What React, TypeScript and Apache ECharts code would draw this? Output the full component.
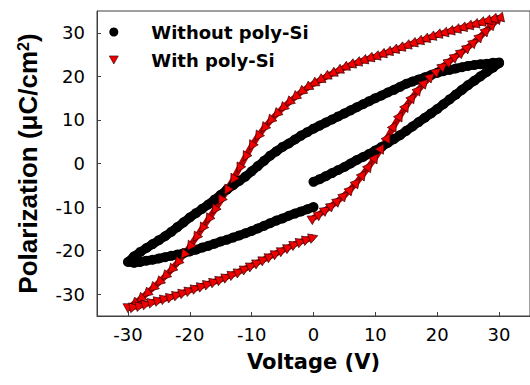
import React, { useEffect, useRef } from "react";
import * as echarts from "echarts";

// Without poly-Si: [voltage (V), polarization (uC/cm2)]
const withoutRise: number[][] = [
  [0, -4.2], [1, -3.6], [2, -2.9], [3, -2.2], [4, -1.5], [5, -0.8], [6, 0], [7, 0.8], [8, 1.5], [9, 2.2],
  [10, 3], [11, 3.8], [12, 4.7], [13, 5.6], [14, 6.5], [15, 7.5], [16, 8.5], [17, 9.5], [18, 10.5], [19, 11.5],
  [20, 12.5], [21, 13.6], [22, 14.7], [23, 15.8], [24, 16.9], [25, 18], [26, 19], [27, 20], [28, 21], [29, 22], [30, 23],
];
const withoutFall: number[][] = [
  [30, 23.2], [29, 23.1], [28, 22.9], [27, 22.8], [26, 22.6], [25, 22.4], [24, 22.1], [23, 21.8], [22, 21.5], [21, 21.2],
  [20, 20.8], [19, 20.3], [18, 19.8], [17, 19.3], [16, 18.8], [15, 18.3], [14, 17.6], [13, 16.9], [12, 16.3], [11, 15.6],
  [10, 15], [9, 14.3], [8, 13.6], [7, 12.9], [6, 12.2], [5, 11.5], [4, 10.8], [3, 10.1], [2, 9.4], [1, 8.7],
  [0, 8], [-1, 7.2], [-2, 6.4], [-3, 5.5], [-4, 4.6], [-5, 3.8], [-6, 2.8], [-7, 1.8], [-8, 0.6], [-9, -0.6],
  [-10, -1.8], [-11, -3], [-12, -4], [-13, -5], [-14, -6], [-15, -7.2], [-16, -8.3], [-17, -9.4], [-18, -10.4], [-19, -11.4],
  [-20, -12.4], [-21, -13.5], [-22, -14.6], [-23, -15.7], [-24, -16.7], [-25, -17.6], [-26, -18.5], [-27, -19.4], [-28, -20.3], [-29, -21.3], [-30, -22.6],
];
const withoutReturn: number[][] = [
  [-29, -22.8], [-28, -22.6], [-27, -22.3], [-26, -22.1], [-25, -21.8], [-24, -21.5], [-23, -21.2], [-22, -20.9], [-21, -20.6],
  [-20, -20.2], [-19, -19.8], [-18, -19.3], [-17, -18.9], [-16, -18.4], [-15, -17.9], [-14, -17.5], [-13, -17], [-12, -16.5], [-11, -16],
  [-10, -15.5], [-9, -14.9], [-8, -14.3], [-7, -13.7], [-6, -13.1], [-5, -12.6], [-4, -12], [-3, -11.5], [-2, -11], [-1, -10.5], [0, -10],
];

// With poly-Si
const withRise: number[][] = [
  [0, -12.5], [1, -11.6], [2, -10.6], [3, -9.6], [4, -8.5], [5, -7.3], [6, -5.9], [7, -4.3], [8, -2.5], [9, -0.6],
  [10, 1.4], [11, 3.6], [12, 6], [13, 8.6], [14, 11], [15, 13.2], [16, 15.2], [17, 17], [18, 18.6], [19, 20],
  [20, 21.2], [21, 22.4], [22, 23.5], [23, 24.6], [24, 25.6], [25, 26.7], [26, 27.9], [27, 29.2], [28, 30.6], [29, 32], [30, 33.4],
];
const withFall: number[][] = [
  [30, 33.4], [29, 33.1], [28, 32.7], [27, 32.3], [26, 31.9], [25, 31.5], [24, 31.1], [23, 30.7], [22, 30.3], [21, 29.9],
  [20, 29.5], [19, 29], [18, 28.5], [17, 28], [16, 27.5], [15, 27], [14, 26.5], [13, 26], [12, 25.5], [11, 25],
  [10, 24.5], [9, 24.1], [8, 23.6], [7, 23.1], [6, 22.6], [5, 22], [4, 21.3], [3, 20.6], [2, 19.9], [1, 19.1],
  [0, 18.3], [-1, 17.4], [-2, 16.4], [-3, 15.2], [-4, 14], [-5, 12.7], [-6, 11.3], [-7, 9.8], [-8, 8.1], [-9, 6.2],
  [-10, 4], [-11, 1.5], [-12, -1.1], [-13, -3.7], [-14, -6.2], [-15, -8.5], [-16, -10.7], [-17, -12.8], [-18, -14.9], [-19, -17],
  [-20, -19.1], [-21, -21], [-22, -22.8], [-23, -24.4], [-24, -25.9], [-25, -27.3], [-26, -28.6], [-27, -29.9], [-28, -31.1], [-29, -32.2], [-30, -33.2],
];
const withReturn: number[][] = [
  [-29, -32.9], [-28, -32.6], [-27, -32.2], [-26, -31.8], [-25, -31.4], [-24, -31], [-23, -30.6], [-22, -30.1], [-21, -29.6],
  [-20, -29.1], [-19, -28.6], [-18, -28.1], [-17, -27.6], [-16, -27.1], [-15, -26.6], [-14, -26], [-13, -25.4], [-12, -24.8], [-11, -24.1],
  [-10, -23.4], [-9, -22.7], [-8, -22], [-7, -21.3], [-6, -20.6], [-5, -19.9], [-4, -19.2], [-3, -18.5], [-2, -17.9], [-1, -17.4], [0, -16.9],
];

const seriesNames = ["Without poly-Si", "With poly-Si"];
const tickValues = [-30, -20, -10, 0, 10, 20, 30];
const FONT = "'DejaVu Sans', 'Liberation Sans', Arial, sans-serif";
const FONT_Y = "'Liberation Sans', Arial, Helvetica, sans-serif";
const DOWN_TRI = "path://M0,0L10,0L5,9Z";

export default function App() {
  const ref = useRef<HTMLDivElement>(null);
  useEffect(() => {
    if (!ref.current) return;
    const chart = echarts.init(ref.current, undefined, { renderer: "svg" });
    const axisColor = "#404040";
    const withData = [...withRise, ...withFall, ...withReturn];
    // orient each triangle along the direction of the sweep (screen pixels per unit ~6.2 x, ~4.36 y)
    const rotateAlongPath = (_v: any, p: any) => {
      const i = p.dataIndex;
      const a = withData[Math.max(0, i - 1)];
      const b = withData[Math.min(withData.length - 1, i + 1)];
      const dx = (b[0] - a[0]) * 6.2;
      const dy = (b[1] - a[1]) * 4.36;
      if (dx === 0 && dy === 0) return 0;
      const theta = (Math.atan2(dy, dx) * 180) / Math.PI;
      return theta + 90;
    };
    const axisCommon = {
      type: "value",
      min: -35,
      max: 35,
      axisLine: { show: true, onZero: false, lineStyle: { color: axisColor, width: 1 } },
      axisTick: { show: true, inside: true, length: 4, lineStyle: { color: axisColor }, customValues: tickValues },
      splitLine: { show: false },
    };
    chart.setOption({
      animation: false,
      backgroundColor: "#fff",
      grid: {
        left: 97, top: 11, width: 437, height: 305, containLabel: false,
        show: true, borderColor: axisColor, borderWidth: 1, backgroundColor: "transparent",
      },
      legend: {
        orient: "vertical", left: 104, top: 18, itemGap: 10, itemWidth: 9, itemHeight: 9,
        symbolRotate: 0,
        textStyle: { fontFamily: FONT, fontSize: 18, fontWeight: "bold", color: "#000", padding: [0, 0, 0, 28] },
        data: [
          { name: seriesNames[0], icon: "circle", itemStyle: { color: "#000" } },
          { name: seriesNames[1], icon: DOWN_TRI, itemStyle: { color: "#f00000", borderColor: "#200000", borderWidth: 0.6 } },
        ],
      },
      xAxis: {
        ...axisCommon,
        name: "Voltage (V)", nameLocation: "middle", nameGap: 35,
        nameTextStyle: { fontFamily: FONT, fontSize: 21, fontWeight: "bold", color: "#000" },
        axisLabel: { fontFamily: FONT, fontSize: 18, color: "#000", margin: 9, customValues: tickValues },
      },
      yAxis: {
        ...axisCommon,
        name: "{a|Polarization (μC/cm}{b|2}{a|)}", nameLocation: "middle", nameGap: 56,
        nameTextStyle: {
          fontFamily: FONT_Y, fontSize: 26, fontWeight: "bold", color: "#000",
          rich: {
            a: { fontFamily: FONT_Y, fontSize: 26, fontWeight: "bold", color: "#000" },
            b: { fontFamily: FONT_Y, fontSize: 16, fontWeight: "bold", color: "#000", verticalAlign: "top" },
          },
        },
        axisLabel: { fontFamily: FONT, fontSize: 18, color: "#000", margin: 12, customValues: tickValues },
      },
      series: [
        {
          name: seriesNames[0], type: "line",
          data: [...withoutRise, ...withoutFall, ...withoutReturn],
          symbol: "circle", symbolSize: 10, showSymbol: true, showAllSymbol: true,
          lineStyle: { color: "#000", width: 9 },
          itemStyle: { color: "#000" },
          emphasis: { disabled: true },
        },
        {
          name: seriesNames[1], type: "line",
          data: withData,
          symbol: DOWN_TRI, symbolSize: [10, 9], symbolRotate: rotateAlongPath, showSymbol: true, showAllSymbol: true,
          lineStyle: { color: "#c00000", width: 6 },
          itemStyle: { color: "#f00000", borderColor: "#200000", borderWidth: 0.6 },
          emphasis: { disabled: true },
        },
      ],
    });
    return () => chart.dispose();
  }, []);
  return (
    <div
      ref={ref}
      style={{ position: "fixed", left: 0, top: 0, width: 530, height: 385, overflow: "hidden" }}
    />
  );
}
